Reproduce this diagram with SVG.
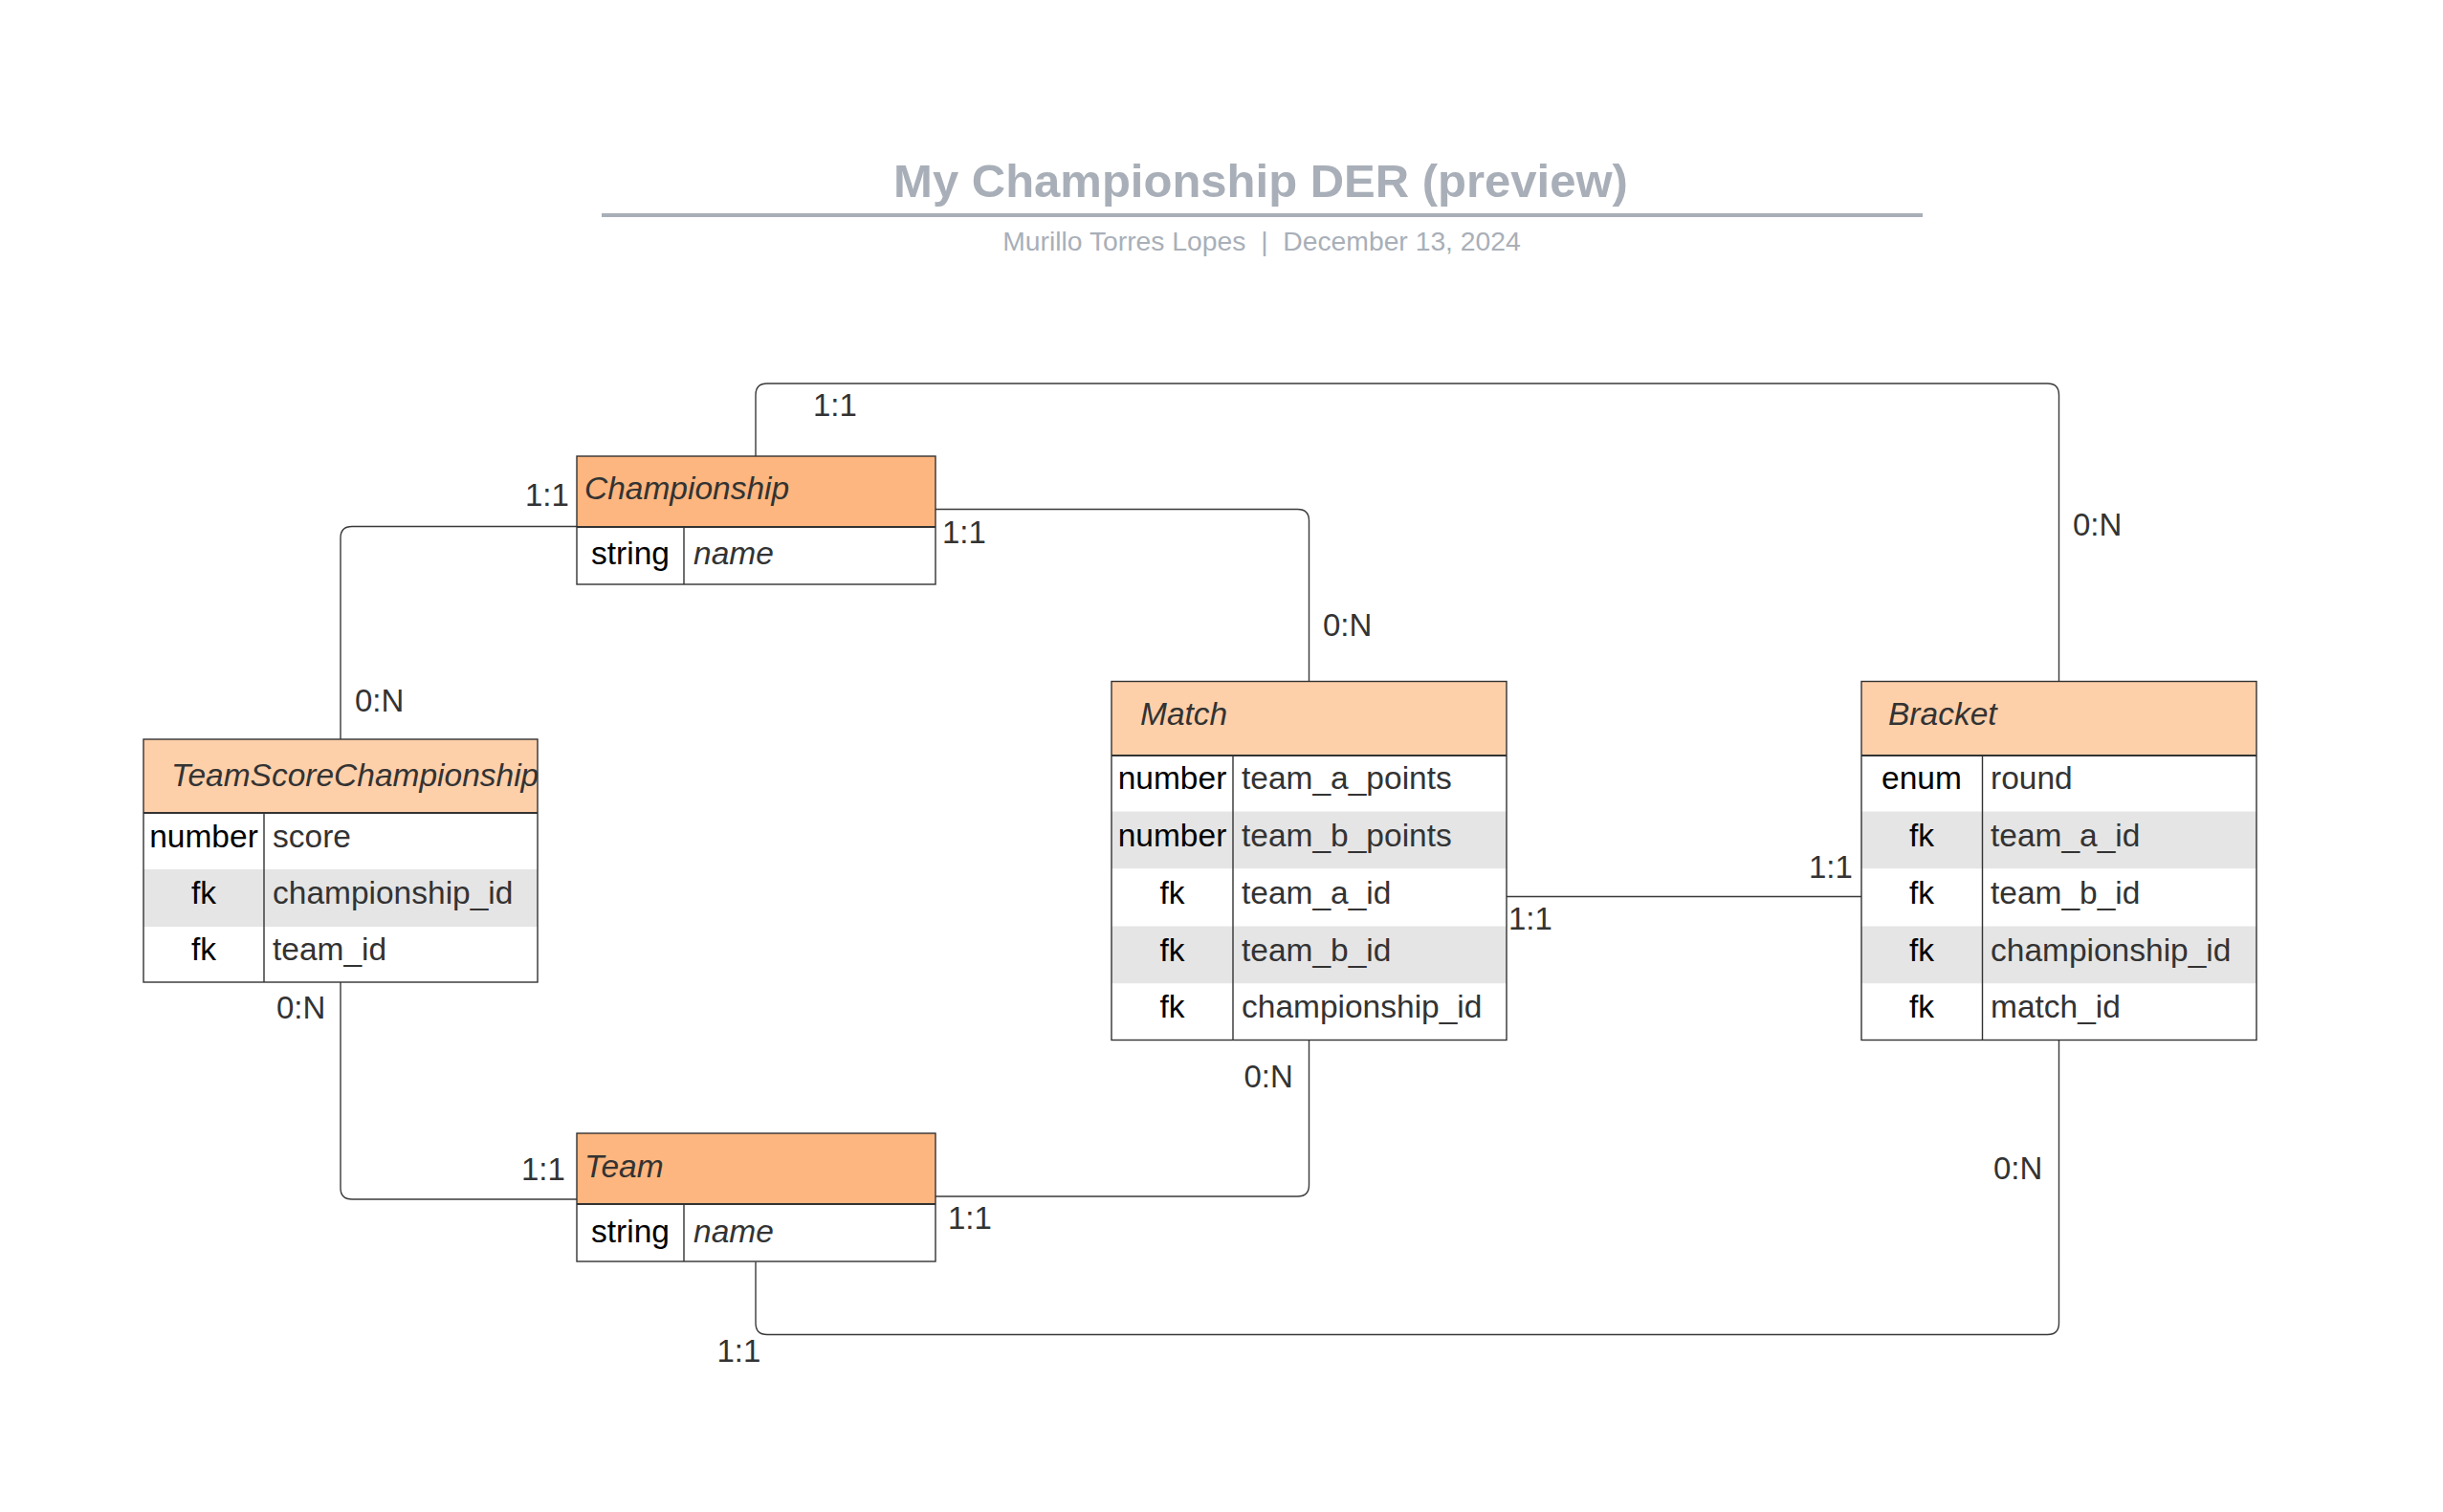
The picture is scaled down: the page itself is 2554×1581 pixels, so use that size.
<svg xmlns="http://www.w3.org/2000/svg" width="2554" height="1581" viewBox="0 0 2554 1581">
<style>
text{font-family:"Liberation Sans",Arial,sans-serif}
.title{font-size:49px;font-weight:bold;fill:#a9afb8}
.sub{font-size:28.3px;fill:#a9afb8;white-space:pre}
.hdr-dark{fill:#fdb67f}
.hdr-light{fill:#fed0aa}
.gray{fill:#e5e5e5}
.white{fill:#ffffff}
.border{fill:none;stroke:#333;stroke-width:1.4}
.sep{stroke:#333;stroke-width:2}
.div{stroke:#333;stroke-width:1.4}
.htext{font-size:33.5px;font-style:italic;fill:#333}
.type{font-size:33.5px;fill:#000;text-anchor:middle}
.name{font-size:33.5px;fill:#333}
.iname{font-size:33.5px;fill:#333;font-style:italic}
.conn path{fill:none;stroke:#3a3a3a;stroke-width:1.4}
.lbl{font-size:33px;fill:#333}
</style>
<rect width="2554" height="1581" fill="#ffffff"/>
<g id="title">
<text class="title" x="1318" y="206" text-anchor="middle">My Championship DER (preview)</text>
<line x1="629" y1="225" x2="2010" y2="225" stroke="#a9afb8" stroke-width="4"/>
<text class="sub" x="1319" y="262" text-anchor="middle" xml:space="preserve">Murillo Torres Lopes  |  December 13, 2024</text>
</g>
<g id="connectors" class="conn">
<path d="M790 477V413Q790 401 802 401H2140.5Q2152.5 401 2152.5 413V712.5"/>
<path d="M978 532.5H1356.5Q1368.5 532.5 1368.5 544.5V712.5"/>
<path d="M603 550.5H368Q356 550.5 356 562.5V773"/>
<path d="M356 1027V1242Q356 1254 368 1254H603"/>
<path d="M978 1251H1356.5Q1368.5 1251 1368.5 1239V1087.5"/>
<path d="M1575 937.5H1946"/>
<path d="M790 1319.5V1383.5Q790 1395.5 802 1395.5H2140.5Q2152.5 1395.5 2152.5 1383.5V1087.5"/>
</g>
<g id="labels">
<text class="lbl" x="850" y="435">1:1</text>
<text class="lbl" x="2167" y="560">0:N</text>
<text class="lbl" x="549" y="529">1:1</text>
<text class="lbl" x="985" y="568">1:1</text>
<text class="lbl" x="1383" y="665">0:N</text>
<text class="lbl" x="371" y="744">0:N</text>
<text class="lbl" x="289" y="1065">0:N</text>
<text class="lbl" x="545" y="1234">1:1</text>
<text class="lbl" x="991" y="1285">1:1</text>
<text class="lbl" x="1300.5" y="1137">0:N</text>
<text class="lbl" x="1577" y="972">1:1</text>
<text class="lbl" x="1891" y="918">1:1</text>
<text class="lbl" x="749.5" y="1424">1:1</text>
<text class="lbl" x="2084" y="1233">0:N</text>
</g>
<g id="championship">
<rect class="hdr-dark" x="603" y="477" width="375" height="74"/>
<rect class="white" x="603" y="551" width="375" height="60"/>
<rect class="border" x="603" y="477" width="375" height="134"/>
<line class="sep" x1="603" y1="551" x2="978" y2="551"/>
<line class="div" x1="715" y1="551" x2="715" y2="611"/>
<text class="htext" x="611" y="522">Championship</text>
<text class="type" x="659" y="590">string</text>
<text class="iname" x="725" y="590">name</text>
</g>
<g id="team">
<rect class="hdr-dark" x="603" y="1185" width="375" height="74"/>
<rect class="white" x="603" y="1259" width="375" height="60"/>
<rect class="border" x="603" y="1185" width="375" height="134"/>
<line class="sep" x1="603" y1="1259" x2="978" y2="1259"/>
<line class="div" x1="715" y1="1259" x2="715" y2="1319"/>
<text class="htext" x="611" y="1231">Team</text>
<text class="type" x="659" y="1299">string</text>
<text class="iname" x="725" y="1299">name</text>
</g>
<g id="teamscorechampionship">
<rect class="hdr-light" x="150" y="773" width="412" height="77"/>
<rect class="white" x="150" y="850" width="412" height="59"/>
<rect class="gray" x="150" y="909" width="412" height="60"/>
<rect class="white" x="150" y="969" width="412" height="58"/>
<rect class="border" x="150" y="773" width="412" height="254"/>
<line class="sep" x1="150" y1="850" x2="562" y2="850"/>
<line class="div" x1="276" y1="850" x2="276" y2="1027"/>
<text class="htext" x="179" y="822">TeamScoreChampionship</text>
<text class="type" x="213" y="886">number</text>
<text class="name" x="285" y="886">score</text>
<text class="type" x="213" y="945">fk</text>
<text class="name" x="285" y="945">championship_id</text>
<text class="type" x="213" y="1004">fk</text>
<text class="name" x="285" y="1004">team_id</text>
</g>
<g id="match">
<rect class="hdr-light" x="1162" y="712.5" width="413" height="77.5"/>
<rect class="white" x="1162" y="790" width="413" height="58.5"/>
<rect class="gray" x="1162" y="848.5" width="413" height="60"/>
<rect class="white" x="1162" y="908.5" width="413" height="60"/>
<rect class="gray" x="1162" y="968.5" width="413" height="60"/>
<rect class="white" x="1162" y="1028.5" width="413" height="59"/>
<rect class="border" x="1162" y="712.5" width="413" height="375"/>
<line class="sep" x1="1162" y1="790" x2="1575" y2="790"/>
<line class="div" x1="1289" y1="790" x2="1289" y2="1087.5"/>
<text class="htext" x="1192" y="758">Match</text>
<text class="type" x="1225.5" y="825">number</text>
<text class="name" x="1298" y="825">team_a_points</text>
<text class="type" x="1225.5" y="885">number</text>
<text class="name" x="1298" y="885">team_b_points</text>
<text class="type" x="1225.5" y="945">fk</text>
<text class="name" x="1298" y="945">team_a_id</text>
<text class="type" x="1225.5" y="1005">fk</text>
<text class="name" x="1298" y="1005">team_b_id</text>
<text class="type" x="1225.5" y="1064">fk</text>
<text class="name" x="1298" y="1064">championship_id</text>
</g>
<g id="bracket">
<rect class="hdr-light" x="1946" y="712.5" width="413" height="77.5"/>
<rect class="white" x="1946" y="790" width="413" height="58.5"/>
<rect class="gray" x="1946" y="848.5" width="413" height="60"/>
<rect class="white" x="1946" y="908.5" width="413" height="60"/>
<rect class="gray" x="1946" y="968.5" width="413" height="60"/>
<rect class="white" x="1946" y="1028.5" width="413" height="59"/>
<rect class="border" x="1946" y="712.5" width="413" height="375"/>
<line class="sep" x1="1946" y1="790" x2="2359" y2="790"/>
<line class="div" x1="2072.5" y1="790" x2="2072.5" y2="1087.5"/>
<text class="htext" x="1974" y="758">Bracket</text>
<text class="type" x="2009" y="825">enum</text>
<text class="name" x="2081" y="825">round</text>
<text class="type" x="2009" y="885">fk</text>
<text class="name" x="2081" y="885">team_a_id</text>
<text class="type" x="2009" y="945">fk</text>
<text class="name" x="2081" y="945">team_b_id</text>
<text class="type" x="2009" y="1005">fk</text>
<text class="name" x="2081" y="1005">championship_id</text>
<text class="type" x="2009" y="1064">fk</text>
<text class="name" x="2081" y="1064">match_id</text>
</g>
</svg>
